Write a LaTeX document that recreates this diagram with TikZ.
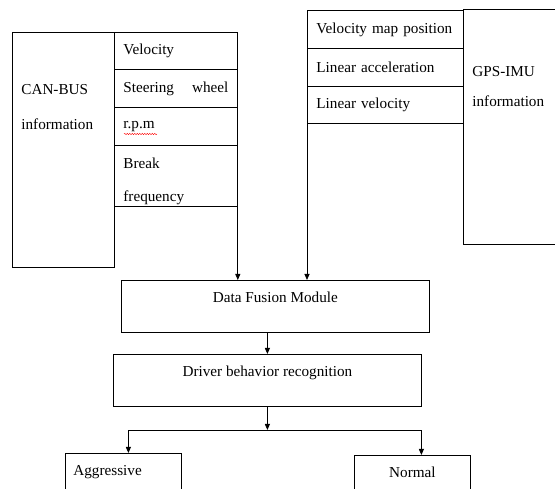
\documentclass[tikz,border=0pt]{standalone}
\usepackage{fontspec}
\setmainfont{Liberation Serif}
\usetikzlibrary{arrows.meta,positioning,decorations.pathmorphing}

\begin{document}
\begin{tikzpicture}[
  x=1pt, y=-1pt, line width=0.8pt,
  >={Triangle[length=6pt,width=5pt]},
  bigbox/.style={draw, anchor=north west, inner sep=0pt},
  cell/.style={draw, anchor=north west, text width=#1, inner xsep=9pt,
    inner ysep=0pt, align=left, font=\fontsize{15.2}{33}\selectfont},
  block/.style={draw, anchor=north west, inner sep=0pt, minimum height=52pt,
    text height=22pt, text depth=30pt, font=\fontsize{15.2}{18}\selectfont},
  lbl/.style={anchor=west, inner sep=0pt, align=left},
]
  \clip (0,0) rectangle (555,489);

  % Left: CAN-BUS information
  \node[bigbox, minimum width=102pt, minimum height=235pt] (canbus) at (12,32) {};
  \node[lbl, font=\fontsize{15.2}{35}\selectfont] (cantext) at (21,107)
    {CAN-BUS\\information};
  \node[cell=105pt, minimum height=37pt] (vel) at (114,32) {Velocity};
  \node[cell=105pt, minimum height=38pt] (steer) at (114,69)
    {Steering\hfill wheel};
  \node[cell=105pt, minimum height=38pt] (rpm) at (114,107) {r.p.m};
  \node[cell=105pt, minimum height=61pt] (brk) at (114,145)
    {\raisebox{-5pt}[\height][\depth]{\parbox{105pt}{Break\\frequency}}};
  \draw[red, line width=0.4pt, decorate,
    decoration={snake, amplitude=0.7pt, segment length=2.5pt}]
    (124,134) -- (157,134);

  % Right: GPS-IMU information
  \node[bigbox, minimum width=100pt, minimum height=235pt] (gps) at (463,9) {};
  \node[lbl, font=\fontsize{15.2}{30}\selectfont] (gpstext) at (472,87)
    {GPS-IMU\\information};
  \node[cell=138pt, minimum height=38pt] (vmp) at (307,10)
    {Velocity map position};
  \node[cell=138pt, minimum height=38pt] (lacc) at (307,48)
    {Linear acceleration};
  \node[cell=138pt, minimum height=37pt] (lvel) at (307,86)
    {Linear velocity};

  % Middle: fusion and recognition
  \node[block, minimum width=308pt] (fusion) at (121,280) {Data Fusion Module};
  \node[block, minimum width=308pt] (dbr) at (113,354)
    {Driver behavior recognition};

  % Bottom: classes
  \node[block, minimum width=116pt, text width=100pt, inner xsep=8pt,
    align=left] (aggr) at (65,453) {Aggressive};
  \node[block, minimum width=116pt] (norm) at (354,455) {Normal};

  % Arrows
  \draw[->] (brk.south east) -- (brk.south east |- fusion.north);
  \draw[->] (lvel.south west) -- (lvel.south west |- fusion.north);
  \draw[->] (dbr.north |- fusion.south) -- (dbr.north);
  \coordinate (split) at (dbr.south |- 0,430);
  \draw[->] (dbr.south) -- (split);
  \draw[->] (split) -| ([xshift=5pt]aggr.north);
  \draw[->] (split) -| ([xshift=9pt]norm.north);
\end{tikzpicture}
\end{document}
